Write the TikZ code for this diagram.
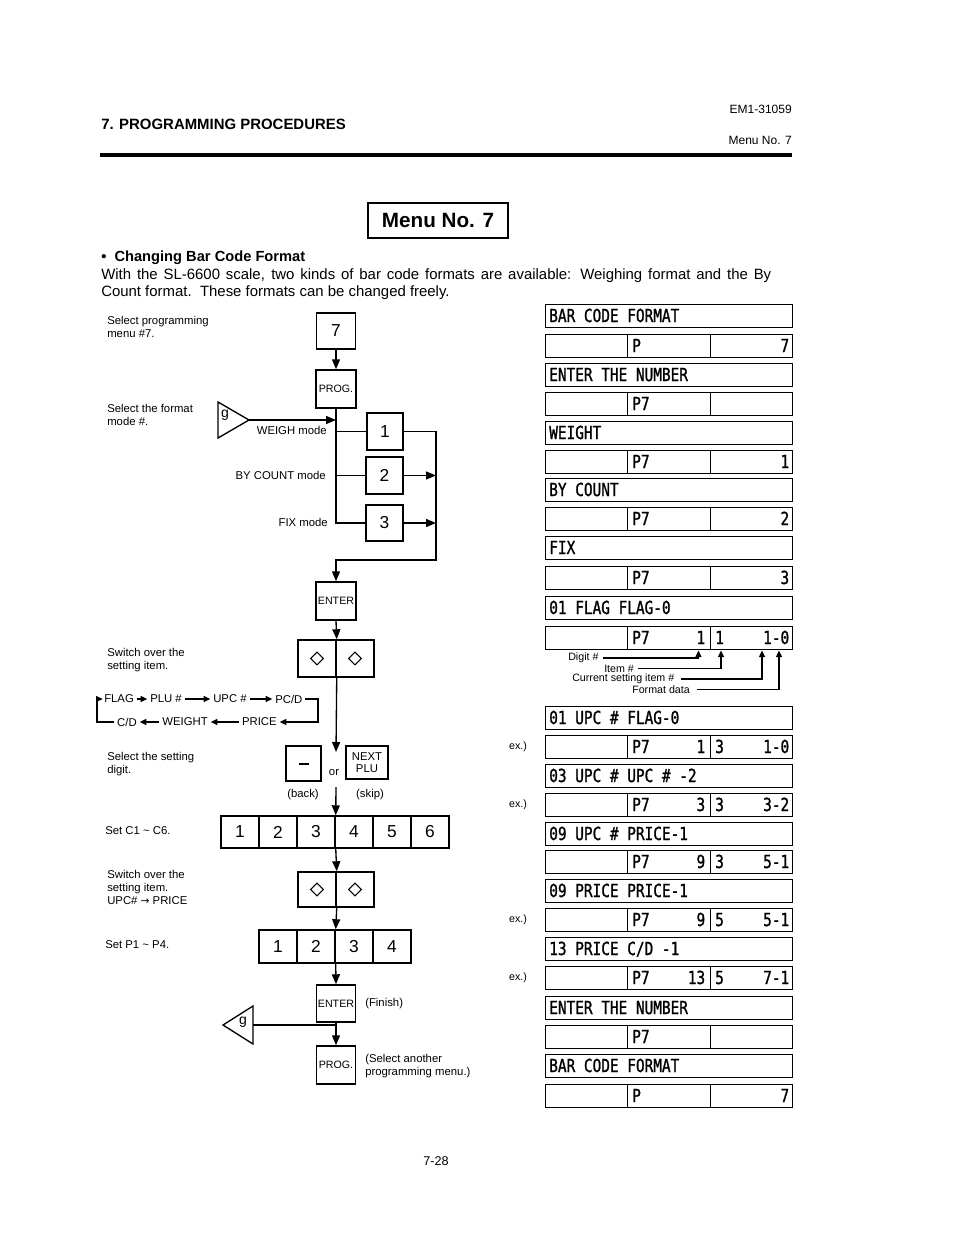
\documentclass[tikz,border=0pt]{standalone}
\usepackage{fontspec}
\setmainfont{Liberation Sans}
\newfontfamily\lcdfont{DejaVu Sans Mono}[FakeStretch=0.8,FakeBold=1.2]
\newfontfamily\dejavu{DejaVu Sans}
\usetikzlibrary{arrows.meta,calc,shapes.geometric}

\tikzset{
 conn/.style={line width=1pt},
 arr/.style={conn,-{Triangle[length=7.5pt,width=6pt]}},
 sarr/.style={line width=0.9pt,-{Triangle[length=5pt,width=4.5pt]}},
 keybox/.style={draw,line width=1.1pt,inner sep=0pt,font=\fontsize{13pt}{15pt}\selectfont},
 smallkey/.style={keybox,font=\fontsize{8pt}{9pt}\selectfont},
 lbl/.style={font=\fontsize{8.5pt}{9.75pt}\selectfont,inner sep=0pt,align=left},
 note/.style={font=\fontsize{8pt}{9pt}\selectfont,inner sep=0pt},
 dia/.style={draw,diamond,line width=0.8pt,inner sep=0pt,minimum width=9.75pt,minimum height=9.75pt},
 lcdbox/.style={draw,line width=1.1pt,inner sep=0pt,minimum height=17.25pt,anchor=north west},
 lcdtxt/.style={font=\lcdfont\fontsize{13.5pt}{14pt}\selectfont,inner sep=0pt},
}

\newcommand\lcdlab[3]{%
 \node[lcdbox,minimum width=185.25pt] (#1) at (545,#2) {};
 \node[lcdtxt,anchor=base west] (#1t) at ($(#1.north west)+(4,18)$) {#3};}
\newcommand\lcdrow[6]{%
 \node[lcdbox,minimum width=61.5pt] (#1a) at (545,#2) {};
 \node[lcdbox,minimum width=62.25pt] (#1b) at (627,#2) {};
 \node[lcdbox,minimum width=61.5pt] (#1c) at (710,#2) {};
 \node[lcdtxt,anchor=base west] (#1bl) at ($(#1b.north west)+(5,18)$) {#3};
 \node[lcdtxt,anchor=base east] (#1br) at ($(#1b.north east)+(-6,18)$) {#4};
 \node[lcdtxt,anchor=base west] (#1cl) at ($(#1c.north west)+(5,18)$) {#5};
 \node[lcdtxt,anchor=base east] (#1cr) at ($(#1c.north east)+(-4,18)$) {#6};}

\begin{document}
\begin{tikzpicture}[x=0.75pt,y=-0.75pt]
\useasboundingbox (0,0) rectangle (954,1235);

% header
\node[font=\bfseries\fontsize{11.2pt}{12pt}\selectfont,anchor=base west,inner sep=0pt] (hdr) at (101,129) {7. PROGRAMMING PROCEDURES};
\node[font=\fontsize{9pt}{10pt}\selectfont,anchor=base east,inner sep=0pt] (doc) at (792,113) {EM1-31059};
\node[font=\fontsize{9pt}{10pt}\selectfont,anchor=base east,inner sep=0pt] (mref) at (792,144) {Menu No. 7};
\coordinate (ruleL) at (100,154.5);
\coordinate (ruleR) at (792,154.5);
\draw[line width=3pt] (ruleL) -- (ruleR);

% title
\node[draw,line width=1.2pt,minimum width=105pt,minimum height=26.25pt,inner sep=0pt,font=\bfseries\fontsize{15.5pt}{18pt}\selectfont] (title) at (438,220.5) {Menu No. 7};

\node[font=\bfseries\fontsize{11pt}{12pt}\selectfont,anchor=base west,inner sep=0pt] (sec) at (101,261) {\textbullet\ \ Changing Bar Code Format};
\node[font=\fontsize{11.2pt}{12pt}\selectfont,anchor=base west,inner sep=0pt] (body1) at (101,279) {\makebox[502.5pt][s]{With the SL-6600 scale, two kinds of bar code formats are available: Weighing format and the By}};
\node[font=\fontsize{11.2pt}{12pt}\selectfont,anchor=base west,inner sep=0pt] (body2) at (101,296) {Count format.\ \ These formats can be changed freely.};

% left labels
\node[lbl,anchor=north west] (l1) at (107,316) {Select programming\\menu \#7.};
\node[lbl,anchor=north west] (l2) at (107,404) {Select the format\\mode \#.};
\node[lbl,anchor=north west] (l3) at (107,648) {Switch over the\\setting item.};
\node[lbl,anchor=north west] (l4) at (107,752) {Select the setting\\digit.};
\node[lbl,anchor=west] (l5) at (105,831) {Set C1 \textasciitilde\ C6.};
\node[lbl,anchor=north west] (l6) at (107,870) {Switch over the\\setting item.\\UPC\# {\dejavu\fontsize{8pt}{9pt}\selectfont →} PRICE};
\node[lbl,anchor=west] (l7) at (105,945) {Set P1 \textasciitilde\ P4.};

% flow top
\node[keybox,minimum width=29.25pt,minimum height=27pt] (k7) at (336,331) {7};
\node[smallkey,minimum width=30pt,minimum height=28.5pt] (prog1) at (336,389) {PROG.};
\draw[arr] (k7.south) -- (prog1.north);

\draw[line width=1pt] (218,402) -- (218,438) -- (249,420) -- cycle;
\node[font=\fontsize{10.5pt}{12pt}\selectfont,inner sep=0pt] (g1t) at (225,415) {g};
\coordinate (g1tip) at (249,420);
\draw[arr] (g1tip) -- (prog1.south |- g1tip);

\node[keybox,minimum width=27pt,minimum height=27.75pt] (b1) at (385,431.5) {1};
\node[keybox,minimum width=27.75pt,minimum height=27.75pt] (b2) at (384.5,475.5) {2};
\node[keybox,minimum width=27.75pt,minimum height=27pt] (b3) at (384.5,523) {3};
\node[lbl,anchor=east] (wm) at (327,430) {WEIGH mode};
\node[lbl,anchor=east] (bcm) at (326,475) {BY COUNT mode};
\node[lbl,anchor=east] (fxm) at (328,522) {FIX mode};

\draw[conn] (prog1.south) |- (b3.west);
\draw[conn] (prog1.south |- b1.west) -- (b1.west);
\draw[conn] (prog1.south |- b2.west) -- (b2.west);

\node[smallkey,minimum width=30pt,minimum height=28.5pt] (enter1) at (336,601) {ENTER};
\coordinate (bus) at (436,560);
\draw[arr] (b1.east) -| (bus) -| (enter1.north);
\draw[arr] (b2.east) -- (b2.east -| bus);
\draw[arr] (b3.east) -- (b3.east -| bus);

% diamonds 1
\node[keybox,minimum width=28.5pt,minimum height=27.75pt] (dm1a) at (317,658.5) {};
\node[keybox,minimum width=28.5pt,minimum height=27.75pt] (dm1b) at (355,658.5) {};
\node[dia] (dm1l) at (dm1a.center) {};
\node[dia] (dm1r) at (dm1b.center) {};
\draw[arr] (enter1.south) -- (dm1a.north east);

% FLAG loop
\node[lbl,anchor=west] (fl) at (104,699) {FLAG};
\node[lbl,anchor=west] (plu) at (150,699) {PLU \#};
\node[lbl,anchor=west] (upc) at (213,699) {UPC \#};
\node[lbl,anchor=west] (pcd) at (275,699) {PC/D};
\node[lbl,anchor=east] (pri) at (277,722) {PRICE};
\node[lbl,anchor=east] (wgt) at (208,722) {WEIGHT};
\node[lbl,anchor=east] (cd) at (137,722) {C/D};
\draw[sarr] ([xshift=2pt]fl.east) -- ([xshift=-2pt]plu.west);
\draw[sarr] ([xshift=2pt]plu.east) -- ([xshift=-2pt]upc.west);
\draw[sarr] ([xshift=2pt]upc.east) -- ([xshift=-2pt]pcd.west);
\coordinate (lpR) at (318,710);
\coordinate (lpL) at (97,710);
\draw[sarr] ([xshift=2pt]pcd.east) -| (lpR) |- ([xshift=2pt]pri.east);
\draw[sarr] ([xshift=-2pt]pri.west) -- ([xshift=2pt]wgt.east);
\draw[sarr] ([xshift=-2pt]wgt.west) -- ([xshift=2pt]cd.east);
\draw[sarr] ([xshift=-2pt]cd.west) -| (lpL) |- ([xshift=-1pt]fl.west);

% back / skip
\node[keybox,minimum width=26.25pt,minimum height=26.25pt] (minus) at (303.5,763.5) {};
\draw[line width=1.5pt] ($(minus.center)+(-5,0)$) -- ($(minus.center)+(5,0)$);
\node[smallkey,minimum width=31.5pt,minimum height=24.75pt,align=center,font=\fontsize{8.5pt}{8.5pt}\selectfont] (next) at (367,762.5) {NEXT\\PLU};
\node[lbl] (or) at (334,772) {or};
\node[lbl] (back) at (303,795) {(back)};
\node[lbl] (skip) at (370,795) {(skip)};
\coordinate (orTop) at (336,752);
\coordinate (orBot) at (336,787);
\draw[arr] (dm1a.south east) -- (orTop);

% digits row 1
\foreach \i/\t in {1/1,2/2,3/3,4/4,5/5,6/6}{
 \node[keybox,minimum width=28.5pt,minimum height=24pt] (c\i) at ({240+38*(\i-1)},832) {\t};
}
\draw[arr] (orBot) -- (c3.north east);

% diamonds 2
\node[keybox,minimum width=28.5pt,minimum height=26.25pt] (dm2a) at (317,889.5) {};
\node[keybox,minimum width=28.5pt,minimum height=26.25pt] (dm2b) at (355,889.5) {};
\node[dia] (dm2l) at (dm2a.center) {};
\node[dia] (dm2r) at (dm2b.center) {};
\draw[arr] (c3.south east) -- (dm2a.north east);

% digits row 2
\foreach \i in {1,2,3,4}{
 \node[keybox,minimum width=28.5pt,minimum height=24.75pt] (p\i) at ({278+38*(\i-1)},946.5) {\i};
}
\draw[arr] (dm2a.south east) -- (p2.north east);

% finish
\node[smallkey,minimum width=29.25pt,minimum height=27.75pt] (enter2) at (336,1003.5) {ENTER};
\node[smallkey,minimum width=29.25pt,minimum height=28.5pt] (prog2) at (336,1065) {PROG.};
\draw[arr] (p2.south east) -- (enter2.north);
\draw[arr] (enter2.south) -- (prog2.north);
\draw[line width=1pt] (223,1025) -- (253,1006) -- (253,1044) -- cycle;
\node[font=\fontsize{10.5pt}{12pt}\selectfont,inner sep=0pt] (g2t) at (243,1022) {g};
\coordinate (g2r) at (253,1025);
\draw[conn] (g2r) -- (enter2.south |- g2r);
\node[lbl,anchor=west] (fin) at (365,1004) {(Finish)};
\node[lbl,anchor=north west] (sel) at (365,1054) {(Select another\\programming menu.)};

% right displays
\lcdlab{r1}{304}{BAR CODE FORMAT}
\lcdrow{r2}{334}{P}{}{}{7}
\lcdlab{r3}{363}{ENTER THE NUMBER}
\lcdrow{r4}{392}{P7}{}{}{}
\lcdlab{r5}{421}{WEIGHT}
\lcdrow{r6}{450}{P7}{}{}{1}
\lcdlab{r7}{478}{BY COUNT}
\lcdrow{r8}{507}{P7}{}{}{2}
\lcdlab{r9}{536}{FIX}
\lcdrow{r10}{566}{P7}{}{}{3}
\lcdlab{r11}{596}{01 FLAG FLAG-0}
\lcdrow{r12}{626}{P7}{1}{1}{1-0}
\lcdlab{r13}{706}{01 UPC \# FLAG-0}
\lcdrow{r14}{735}{P7}{1}{3}{1-0}
\lcdlab{r15}{764}{03 UPC \# UPC \# -2}
\lcdrow{r16}{793}{P7}{3}{3}{3-2}
\lcdlab{r17}{822}{09 UPC \# PRICE-1}
\lcdrow{r18}{850}{P7}{9}{3}{5-1}
\lcdlab{r19}{879}{09 PRICE PRICE-1}
\lcdrow{r20}{908}{P7}{9}{5}{5-1}
\lcdlab{r21}{937}{13 PRICE C/D -1}
\lcdrow{r22}{966}{P7}{13}{5}{7-1}
\lcdlab{r23}{996}{ENTER THE NUMBER}
\lcdrow{r24}{1025}{P7}{}{}{}
\lcdlab{r25}{1054}{BAR CODE FORMAT}
\lcdrow{r26}{1084}{P}{}{}{7}

% annotations
\node[note,anchor=west] (dig) at (568,658) {Digit \#};
\node[note,anchor=west] (itm) at (604,668.5) {Item \#};
\node[note,anchor=west] (cur) at (572,679) {Current setting item \#};
\node[note,anchor=west] (fmt) at (632,689.5) {Format data};
\draw[sarr] ([xshift=3pt]dig.east) -| ($(r12b.south east)+(-13,0)$);
\draw[sarr] ([xshift=3pt]itm.east) -| ($(r12c.south west)+(11,0)$);
\draw[sarr] ([xshift=5pt]cur.east) -| ($(r12c.south west)+(52,0)$);
\draw[sarr] ([xshift=5pt]fmt.east) -| ($(r12c.south west)+(69,0)$);

\node[note] (ex1) at (518,747) {ex.)};
\node[note] (ex2) at (518,805) {ex.)};
\node[note] (ex3) at (518,920) {ex.)};
\node[note] (ex4) at (518,978) {ex.)};

\node[font=\fontsize{9.5pt}{11pt}\selectfont,anchor=base,inner sep=0pt] (pg) at (436,1165) {7-28};
\end{tikzpicture}
\end{document}
